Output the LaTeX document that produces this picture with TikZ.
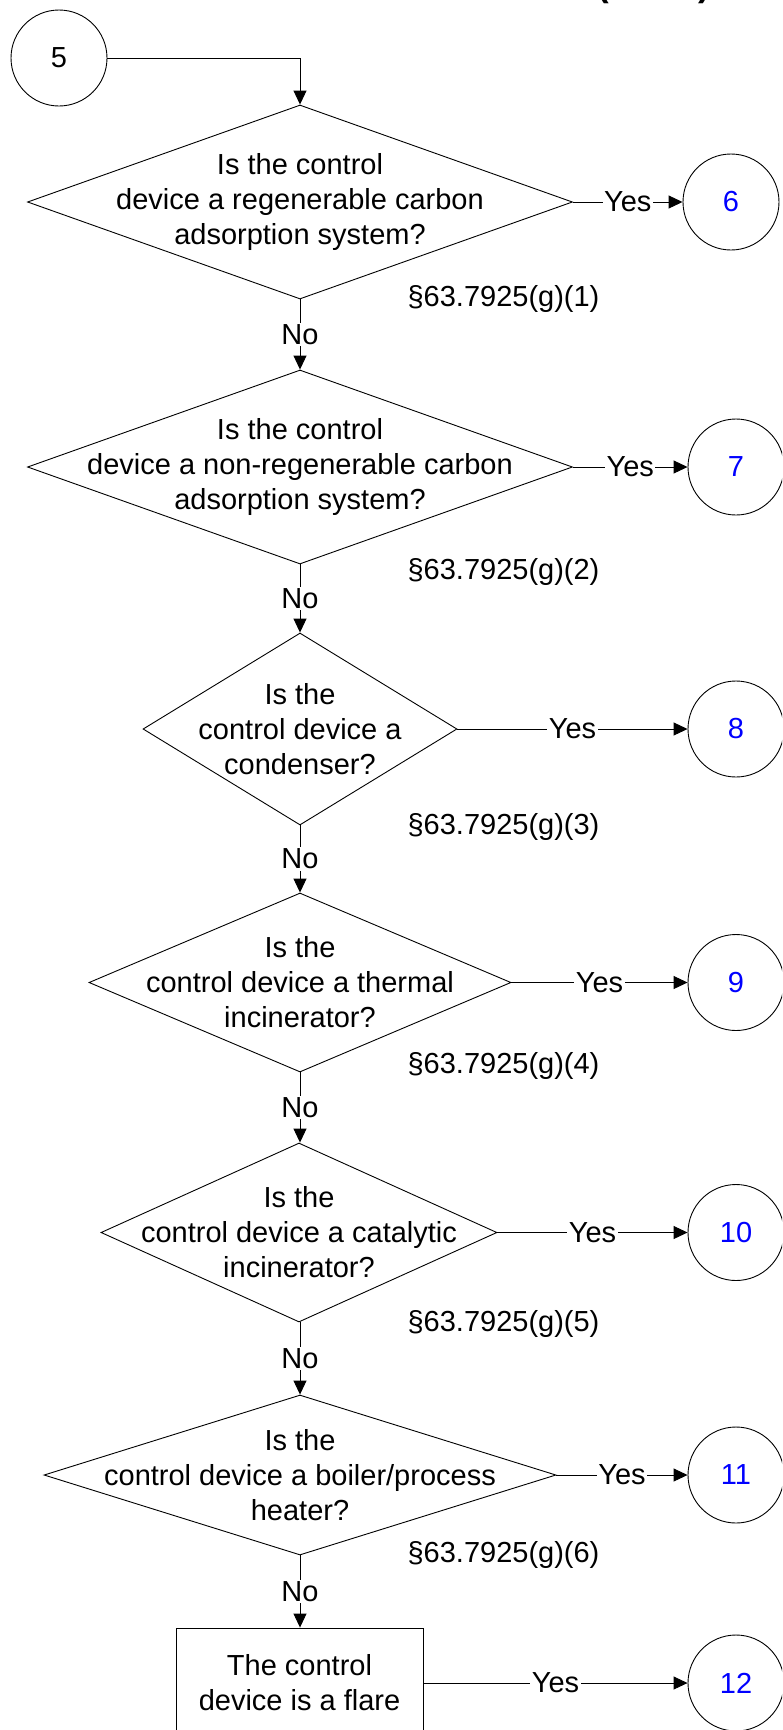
\documentclass[tikz,border=0pt]{standalone}
\usepackage{fontspec}
\setmainfont{Liberation Sans}
\usetikzlibrary{shapes.geometric,arrows.meta}
\definecolor{numblue}{RGB}{0,0,255}
\begin{document}
\begin{tikzpicture}[x=1pt,y=-1pt,
  every node/.style={font=\fontsize{29}{35}\selectfont},
  dec/.style={draw, diamond, inner sep=0pt, line width=0.9pt},
  term/.style={circle, draw, minimum size=96pt, inner sep=0pt, line width=0.9pt},
  blueterm/.style={term, text=numblue},
  flow/.style={line width=0.9pt, -{Triangle[length=14pt,width=13pt]}},
  lab/.style={fill=white, inner sep=1.5pt},
  txt/.style={align=center, inner sep=0pt},
  sect/.style={inner sep=0pt}]
\useasboundingbox (0,0) rectangle (782,1730);
\begin{scope}
\clip (0,0) rectangle (782,1730);
\node[font=\bfseries\fontsize{35}{40}\selectfont, anchor=base, inner sep=0pt] (ttl) at (654,-3.4) {(Cont.)};

% start connector
\node[term] (c5) at (59,58) {5};

% decisions
\node[dec, minimum width=545pt, minimum height=194pt] (d1) at (300,202) {};
\node[txt] (t1) at (d1.center) {Is the control\\device a regenerable carbon\\adsorption system?};
\node[dec, minimum width=545pt, minimum height=194pt] (d2) at (300,467) {};
\node[txt] (t2) at (d2.center) {Is the control\\device a non-regenerable carbon\\adsorption system?};
\node[dec, minimum width=314pt, minimum height=192pt] (d3) at (300,729) {};
\node[txt] (t3) at (d3.center) {Is the\\control device a\\condenser?};
\node[dec, minimum width=422pt, minimum height=179pt] (d4) at (300,982.5) {};
\node[txt] (t4) at (d4.center) {Is the\\control device a thermal\\incinerator?};
\node[dec, minimum width=396pt, minimum height=179pt] (d5) at (299,1232.5) {};
\node[txt] (t5) at (d5.center) {Is the\\control device a catalytic\\incinerator?};
\node[dec, minimum width=512pt, minimum height=160pt] (d6) at (300,1475) {};
\node[txt] (t6) at (d6.center) {Is the\\control device a boiler/process\\heater?};
\node[draw, line width=0.9pt, minimum width=247pt, minimum height=110pt, align=center, inner sep=0pt] (bx) at (299.5,1683) {The control\\device is a flare};

% off-page connectors
\node[blueterm] (c6) at (731,202) {6};
\node[blueterm] (c7) at (736,467) {7};
\node[blueterm] (c8) at (736,729) {8};
\node[blueterm] (c9) at (736,982.5) {9};
\node[blueterm] (c10) at (736,1232.5) {10};
\node[blueterm] (c11) at (736,1475) {11};
\node[blueterm] (c12) at (736,1683) {12};

% section references
\node[sect] (s1) at (503.5,299) {§63.7925(g)(1)};
\node[sect] (s2) at (503.5,572) {§63.7925(g)(2)};
\node[sect] (s3) at (503.5,827) {§63.7925(g)(3)};
\node[sect] (s4) at (503.5,1065.5) {§63.7925(g)(4)};
\node[sect] (s5) at (503.5,1324) {§63.7925(g)(5)};
\node[sect] (s6) at (503.5,1555) {§63.7925(g)(6)};

% connectors
\draw[flow] (c5.east) -| (d1.north);
\draw[flow] (d1.south) -- node[lab]{No} (d2.north);
\draw[flow] (d2.south) -- node[lab]{No} (d3.north);
\draw[flow] (d3.south) -- node[lab]{No} (d4.north);
\draw[flow] (d4.south) -- node[lab]{No} (d5.north -| d4.south);
\draw[flow] (d5.south -| d4.south) -- node[lab]{No} (d6.north);
\draw[flow] (d6.south) -- node[lab]{No} (bx.north -| d6.south);

\draw[flow] (d1.east) -- node[lab]{Yes} (c6.west);
\draw[flow] (d2.east) -- node[lab]{Yes} (c7.west);
\draw[flow] (d3.east) -- node[lab]{Yes} (c8.west);
\draw[flow] (d4.east) -- node[lab]{Yes} (c9.west);
\draw[flow] (d5.east) -- node[lab]{Yes} (c10.west);
\draw[flow] (d6.east) -- node[lab]{Yes} (c11.west);
\draw[flow] (bx.east) -- node[lab]{Yes} (c12.west);
\end{scope}
\end{tikzpicture}
\end{document}
